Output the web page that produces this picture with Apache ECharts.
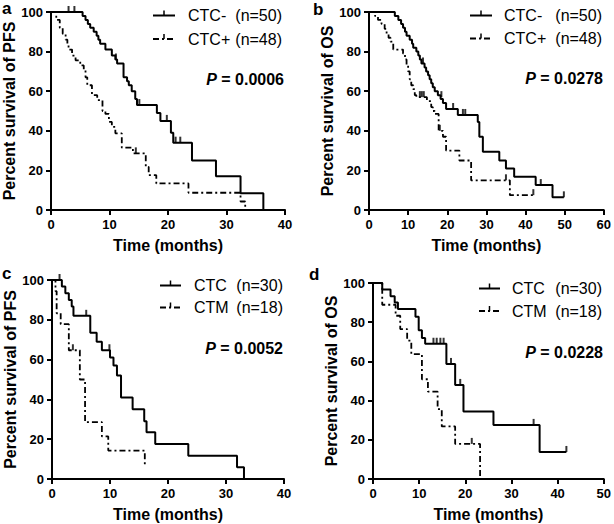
<!DOCTYPE html>
<html><head><meta charset="utf-8">
<script src="https://cdn.jsdelivr.net/npm/echarts@6/dist/echarts.min.js"></script>
<style>html,body{margin:0;padding:0;background:#fff}#c{width:614px;height:524px}</style>
</head><body><div id="c"></div>
<script>
// ---- Data (time in months, percent survival after each step) ----
const aNegPFS = [[0,100],[5.4,98],[5.9,96],[6.3,94],[6.7,92],[7.3,90],[7.8,88],[8.1,86],[8.4,84],[9.3,81],[10.4,78],[11.0,76],[11.3,74],[12.4,67],[13.0,65],[13.3,63],[13.8,60],[14.4,56],[14.7,53],[18.1,49],[18.7,45],[20.5,39],[20.9,34],[24.1,25],[28.2,17],[32.4,8.4],[36.3,0]];
const aPosPFS = [[0,100],[0.9,96],[1.5,92],[2.0,89],[2.5,86],[2.8,84],[3.0,81],[3.6,78],[4.2,75.6],[5.0,73],[5.6,70.6],[5.9,67],[6.2,63],[7.0,58],[7.9,55.5],[8.8,50],[9.3,48.5],[9.9,44.5],[10.4,42],[11.0,38.7],[12.1,31.5],[14.0,28.6],[16.2,21.8],[16.7,17.6],[18.0,13.4],[23.5,8.7],[32.4,4.3],[33.2,0]];
const aNegCens = [[3.0,100],[4.0,100],[11.1,76],[15.1,53],[19.8,45],[21.3,34],[22.1,34]];
const aPosCens = [[14.5,28.6]];

const bNegOS = [[0,100],[6.6,98],[7.5,96],[8.2,94],[8.7,92],[9.2,90],[9.6,88],[10.4,86],[11.0,84],[11.3,82],[12.1,80],[12.6,78],[13.0,76],[13.4,74],[14.2,72],[14.6,70],[15.1,68],[15.5,66],[15.9,64],[16.3,62],[16.8,60],[17.6,58],[18.3,56],[18.9,54],[19.7,51],[22.7,48],[27.8,44.5],[28.2,37],[29.1,29.4],[33.3,25],[35.0,21],[37.1,16.8],[42.6,12.6],[46.9,6.4],[49.8,6.4]];
const bPosOS = [[0,100],[1.5,98],[2.3,96],[3.2,94],[4.0,91.5],[4.5,89],[5.0,87],[5.5,85],[6.2,81],[8.7,79],[9.2,76],[9.6,73],[10.0,70],[10.4,66],[10.8,63],[11.3,61],[11.7,58],[12.1,57],[14.8,55],[15.9,52],[16.3,50],[16.8,48.5],[17.8,40],[18.9,37],[19.7,30],[23.1,25],[26.1,15],[36.0,7.5],[42.0,7.5]];
const bNegCens = [[13.8,74],[18.5,57],[21.5,51],[24.0,48],[24.6,48],[43.9,12.6],[49.8,6.4]];
const bPosCens = [[13.0,57],[13.5,57],[14.0,57],[18.1,40],[35.0,15],[42.0,7.5]];

const cCtcPFS = [[0,100],[1.7,96.7],[2.3,93.3],[2.9,90],[3.4,86.7],[3.7,82],[6.6,73.5],[7.7,69],[8.6,64.7],[10.0,61],[10.6,57],[11.2,52],[11.9,41],[13.9,35],[15.9,29],[16.3,23.5],[17.8,17.6],[23.5,11.7],[31.9,5.9],[33.1,0]];
const cCtmPFS = [[0,100],[0.6,94.4],[0.8,83.3],[1.5,77.8],[2.9,64.7],[4.8,50],[5.7,28.6],[8.6,21.4],[9.7,14.3],[16.0,7.1]];
const cCtcCens = [[1.3,100],[5.9,82],[9.9,64.7]];
const cCtmCens = [[3.6,64.7]];

const dCtcOS = [[0,100],[2.0,96.7],[3.8,93.3],[4.7,90],[5.4,86.7],[9.2,82.8],[9.9,75.9],[10.6,72],[11.3,69],[15.9,58.7],[17.8,48],[19.6,34.5],[26.1,27.6],[36.1,13.8],[41.9,13.8]];
const dCtmOS = [[0,100],[2.0,88.9],[4.9,83.3],[5.9,76.5],[7.4,70.6],[8.3,63.7],[10.6,50.9],[11.9,44.6],[14.0,35.7],[14.9,26.8],[17.8,17.9],[23.2,0]];
const dCtcCens = [[13.1,69],[13.8,69],[14.6,69],[15.3,69],[16.9,58.7],[18.9,48],[34.8,27.6],[41.9,13.8]];
const dCtmCens = [[21.4,17.9]];

const panelLetters = ['a','b','c','d'];
const yNames = ['Percent survival of PFS','Percent survival of OS','Percent survival of PFS','Percent survival of OS'];
const xName = 'Time (months)';
const xMaxes = [40,60,40,50];
const legendSolid = [['CTC-','(n=50)'],['CTC-','(n=50)'],['CTC','(n=30)'],['CTC','(n=30)']];
const legendDashed = [['CTC+','(n=48)'],['CTC+','(n=48)'],['CTM','(n=18)'],['CTM','(n=18)']];
const pValues = ['0.0006','0.0278','0.0052','0.0228'];

const solidData = [aNegPFS,bNegOS,cCtcPFS,dCtcOS];
const dashedData = [aPosPFS,bPosOS,cCtmPFS,dCtmOS];
const solidCens = [aNegCens,bNegCens,cCtcCens,dCtcCens];
const dashedCens = [aPosCens,bPosCens,cCtmCens,dCtmCens];

// ---- Layout ----
const FF = '"Liberation Sans", Arial, sans-serif';
const grids = [
  {left:51, top:12, width:234, height:198},
  {left:369, top:12, width:236, height:198},
  {left:52, top:280, width:232, height:199},
  {left:373, top:283, width:232, height:196}
];
const yNameGaps = [31,33,31,31];
const DASH = [6,3,2,3];

const xAxes = [], yAxes = [], series = [], graphics = [];
grids.forEach((g,i)=>{
  xAxes.push({gridIndex:i,type:'value',min:0,max:xMaxes[i],interval:10,
    axisLine:{show:true,onZero:false,lineStyle:{color:'#000',width:2}},
    axisTick:{show:true,length:5,lineStyle:{color:'#000',width:2}},
    axisLabel:{color:'#000',fontSize:13,fontWeight:'bold',fontFamily:FF,margin:8},
    splitLine:{show:false},
    name:xName,nameLocation:'middle',nameGap:27,
    nameTextStyle:{color:'#000',fontSize:16,fontWeight:'bold',fontFamily:FF}});
  yAxes.push({gridIndex:i,type:'value',min:0,max:100,interval:20,
    axisLine:{show:true,lineStyle:{color:'#000',width:2}},
    axisTick:{show:true,length:5,lineStyle:{color:'#000',width:2}},
    axisLabel:{color:'#000',fontSize:13,fontWeight:'bold',fontFamily:FF,margin:8},
    splitLine:{show:false},
    name:yNames[i],nameLocation:'middle',nameGap:yNameGaps[i],
    nameTextStyle:{color:'#000',fontSize:16,fontWeight:'bold',fontFamily:FF}});
  series.push({type:'line',xAxisIndex:i,yAxisIndex:i,data:solidData[i],step:'end',showSymbol:false,
    lineStyle:{color:'#000',width:2},silent:true,clip:false});
  series.push({type:'line',xAxisIndex:i,yAxisIndex:i,data:dashedData[i],step:'end',showSymbol:false,
    lineStyle:{color:'#000',width:1.8,type:DASH},silent:true,clip:false});
  series.push({type:'scatter',xAxisIndex:i,yAxisIndex:i,data:solidCens[i],symbol:'rect',symbolSize:[2,6],symbolOffset:[0,-3],
    itemStyle:{color:'#000'},silent:true});
  series.push({type:'scatter',xAxisIndex:i,yAxisIndex:i,data:dashedCens[i],symbol:'rect',symbolSize:[2,6],symbolOffset:[0,-3],
    itemStyle:{color:'#000'},silent:true});
});

// legends / annotations (positions in px)
const legPos = [
  {x1:153,x2:175,r1:15.5,r2:39,tx:188,nr:282,pr:284,py:79},
  {x1:470,x2:492,r1:15.5,r2:38.5,tx:504,nr:602,pr:603,py:78.5},
  {x1:160,x2:181,r1:285.5,r2:307.5,tx:194,nr:283,pr:283,py:348},
  {x1:479,x2:500,r1:288.5,r2:311,tx:512,nr:602,pr:603,py:352.5}
];
const letterPos = [[2,0],[313,1],[2,265],[309,266]];
legPos.forEach((p,i)=>{
  const cx = (p.x1+p.x2)/2;
  graphics.push({type:'line',shape:{x1:p.x1,y1:p.r1,x2:p.x2,y2:p.r1},style:{stroke:'#000',lineWidth:2}});
  graphics.push({type:'line',shape:{x1:cx,y1:p.r1-5,x2:cx,y2:p.r1},style:{stroke:'#000',lineWidth:1.5}});
  graphics.push({type:'line',shape:{x1:p.x1,y1:p.r2,x2:p.x2,y2:p.r2},style:{stroke:'#000',lineWidth:1.8,lineDash:DASH}});
  graphics.push({type:'line',shape:{x1:cx,y1:p.r2-5,x2:cx,y2:p.r2},style:{stroke:'#000',lineWidth:1.5}});
  graphics.push({type:'text',x:p.tx,y:p.r1,style:{text:legendSolid[i][0],fill:'#000',fontSize:16,fontFamily:FF,align:'left',verticalAlign:'middle'}});
  graphics.push({type:'text',x:p.nr,y:p.r1,style:{text:legendSolid[i][1],fill:'#000',fontSize:16,fontFamily:FF,align:'right',verticalAlign:'middle'}});
  graphics.push({type:'text',x:p.tx,y:p.r2,style:{text:legendDashed[i][0],fill:'#000',fontSize:16,fontFamily:FF,align:'left',verticalAlign:'middle'}});
  graphics.push({type:'text',x:p.nr,y:p.r2,style:{text:legendDashed[i][1],fill:'#000',fontSize:16,fontFamily:FF,align:'right',verticalAlign:'middle'}});
  graphics.push({type:'text',x:p.pr,y:p.py,style:{text:'{i|P}{b| = '+pValues[i]+'}',fill:'#000',align:'right',verticalAlign:'middle',
    rich:{i:{fontStyle:'italic',fontWeight:'bold',fontSize:16,fontFamily:FF,fill:'#000'},
          b:{fontWeight:'bold',fontSize:16,fontFamily:FF,fill:'#000'}}}});
  graphics.push({type:'text',x:letterPos[i][0],y:letterPos[i][1],style:{text:panelLetters[i],fill:'#000',fontSize:17,fontWeight:'bold',fontFamily:FF,align:'left',verticalAlign:'top'}});
});

const chart = echarts.init(document.getElementById('c'), null, {renderer:'svg'});
chart.setOption({
  animation:false,
  backgroundColor:'#fff',
  grid: grids.map(g=>Object.assign({containLabel:false},g)),
  xAxis:xAxes, yAxis:yAxes, series:series, graphic:graphics
});
</script></body></html>
